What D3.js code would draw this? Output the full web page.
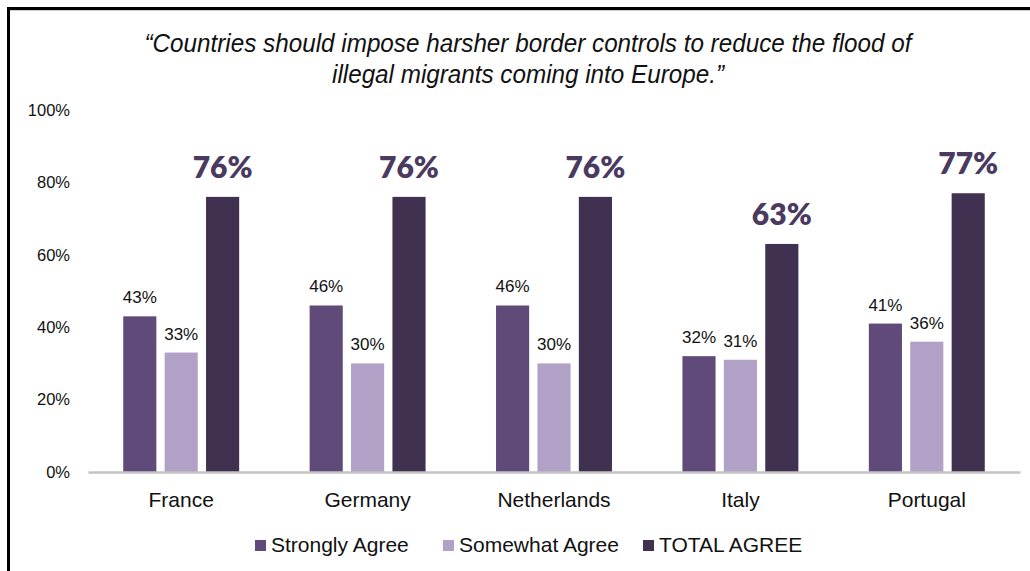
<!DOCTYPE html>
<html>
<head>
<meta charset="utf-8">
<script src="https://cdn.jsdelivr.net/npm/d3@7"></script>
<style>
  body { margin: 0; background: #fff; }
  svg { display: block; }
</style>
</head>
<body>
<svg id="chart"></svg>
<script>
// данные с картинки
let countries = ["France", "Germany", "Netherlands", "Italy", "Portugal"];
let seriesNames = ["Strongly Agree", "Somewhat Agree", "TOTAL AGREE"];
let strongly = [43, 46, 46, 32, 41];
let somewhat = [33, 30, 30, 31, 36];
let total = [76, 76, 76, 63, 77];
let yTicks = [0, 20, 40, 60, 80, 100];
let titleLines = [
    "\u201CCountries should impose harsher border controls to reduce the flood of",
    "illegal migrants coming into Europe.\u201D"
];
let colors = ["#5f4a7a", "#b1a1c6", "#403150"];

function drawChart() {
    let width = 1030;
    let height = 571;
    let svg = d3.select("#chart")
        .attr("width", width)
        .attr("height", height);

    svg.selectAll("*").remove();

    // рамка слева и сверху
    svg.append("path")
        .attr("d", "M8.5,571 V8.5 H1030")
        .attr("fill", "none")
        .attr("stroke", "#000")
        .attr("stroke-width", 3);
    svg.append("line")
        .attr("x1", 10).attr("x2", 1030)
        .attr("y1", 10.5).attr("y2", 10.5)
        .attr("stroke", "#d0d0d0")
        .attr("stroke-width", 1);

    // заголовок
    let titleFont = "'Liberation Sans Narrow', 'Liberation Sans', sans-serif";
    let titleBase = [52, 83];
    let titleWidth = [767, 392];
    titleLines.forEach((line, i) => {
        svg.append("text")
            .attr("x", 528)
            .attr("y", titleBase[i])
            .attr("text-anchor", "middle")
            .attr("font-family", titleFont)
            .attr("font-style", "italic")
            .attr("font-size", 25)
            .attr("fill", "#111")
            .attr("textLength", titleWidth[i])
            .attr("lengthAdjust", "spacingAndGlyphs")
            .text(line);
    });

    // шкалы
    let scaleX = d3.scaleBand()
        .domain(countries)
        .range([88, 1020])
        .paddingInner(0.378)
        .paddingOuter(0.189);
    let scaleInner = d3.scaleBand()
        .domain(seriesNames)
        .range([0, scaleX.bandwidth()])
        .paddingInner(0.2);
    let scaleY = d3.scaleLinear()
        .domain([0, 100])
        .range([472, 110]);

    let mainFont = "'Liberation Sans', Arial, sans-serif";

    // подписи оси Y
    let axisY = d3.axisLeft(scaleY)
        .tickValues(yTicks)
        .tickFormat(d => d + "%")
        .tickSize(0)
        .tickPadding(0);
    let gy = svg.append("g")
        .attr("transform", "translate(70,0)")
        .call(axisY);
    gy.select(".domain").remove();
    gy.selectAll("text")
        .attr("font-family", mainFont)
        .attr("font-size", 16.5)
        .attr("fill", "#111");

    // столбцы
    let seriesValues = [strongly, somewhat, total];
    let rows = [];
    countries.forEach((c, i) => {
        seriesNames.forEach((s, j) => {
            rows.push({ country: c, series: s, index: j, value: seriesValues[j][i] });
        });
    });

    let barsG = svg.append("g");
    barsG.selectAll("rect")
        .data(rows)
        .enter()
        .append("rect")
        .attr("x", d => scaleX(d.country) + scaleInner(d.series))
        .attr("width", scaleInner.bandwidth())
        .attr("y", d => scaleY(d.value))
        .attr("height", d => scaleY(0) - scaleY(d.value))
        .attr("fill", d => colors[d.index]);

    // ось X
    let axisX = d3.axisBottom(scaleX).tickSize(0).tickPadding(0);
    let gx = svg.append("g")
        .attr("transform", "translate(0,472)")
        .call(axisX);
    gx.select(".domain")
        .attr("stroke", "#c3c3c3")
        .attr("stroke-width", 2.5);
    gx.selectAll("text")
        .attr("dy", 0)
        .attr("y", 35)
        .attr("font-family", mainFont)
        .attr("font-size", 21)
        .attr("fill", "#111");

    // подписи значений
    barsG.selectAll("text")
        .data(rows)
        .enter()
        .append("text")
        .attr("x", d => scaleX(d.country) + scaleInner(d.series) + scaleInner.bandwidth() / 2)
        .attr("y", d => scaleY(d.value) - (d.index == 2 ? 19 : 13))
        .attr("text-anchor", "middle")
        .attr("font-family", d => d.index == 2 ? "Lato, 'Open Sans', sans-serif" : mainFont)
        .attr("font-weight", d => d.index == 2 ? 800 : 400)
        .attr("font-size", d => d.index == 2 ? 30 : 17)
        .attr("fill", d => d.index == 2 ? "#4a3a5f" : "#111")
        .text(d => d.value + "%");

    // легенда
    let legendX = [255, 443, 643];
    let legend = svg.append("g");
    seriesNames.forEach((s, i) => {
        legend.append("rect")
            .attr("x", legendX[i])
            .attr("y", 540)
            .attr("width", 11)
            .attr("height", 11)
            .attr("fill", colors[i]);
        legend.append("text")
            .attr("x", legendX[i] + 16)
            .attr("y", 552)
            .attr("font-family", mainFont)
            .attr("font-size", 21)
            .attr("fill", "#111")
            .text(s);
    });
}

drawChart();
</script>
</body>
</html>
